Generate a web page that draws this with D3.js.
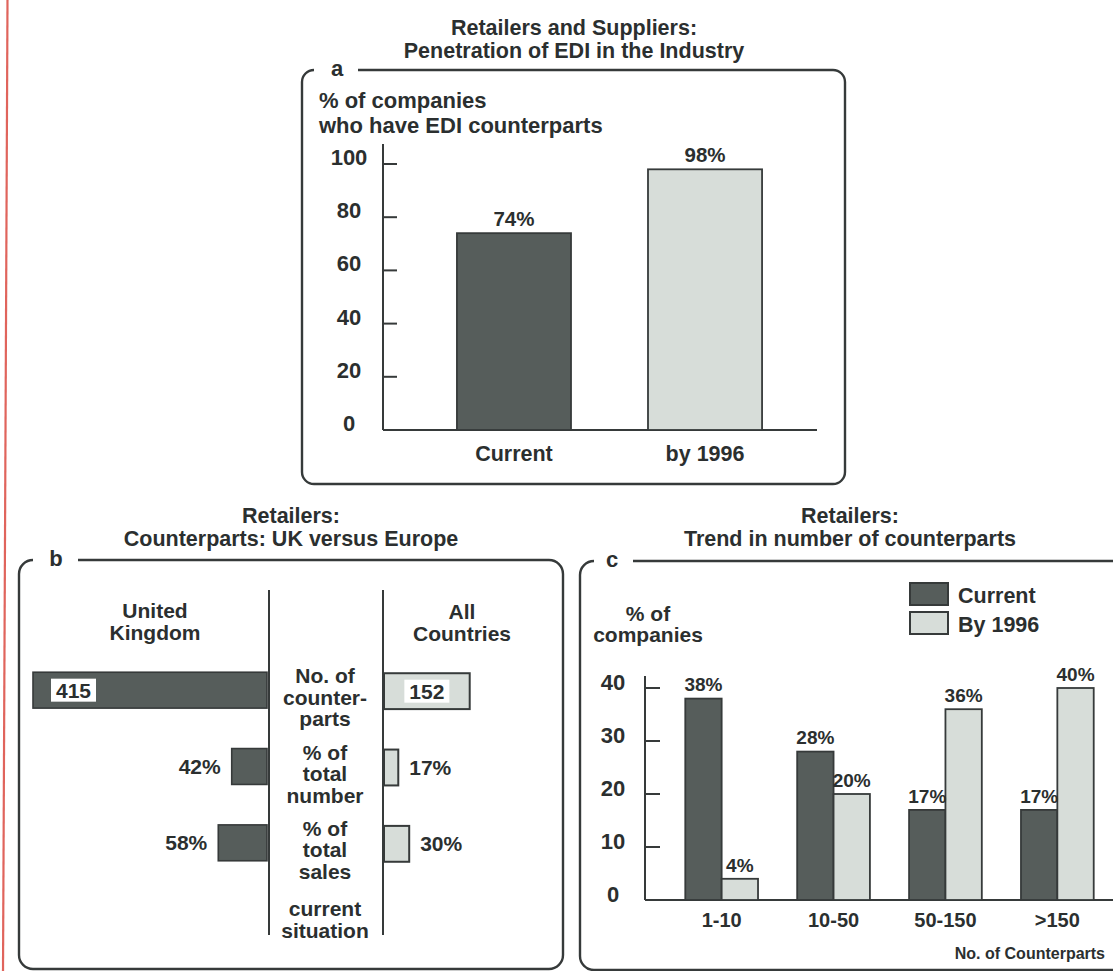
<!DOCTYPE html>
<html>
<head>
<meta charset="utf-8">
<script src="https://cdn.jsdelivr.net/npm/d3@7"></script>
<style>
  html, body { margin: 0; padding: 0; background: #ffffff; }
  svg text { font-family: "Liberation Sans", Arial, Helvetica, sans-serif; font-weight: bold; fill: #2b2f2f; }
</style>
</head>
<body>
<svg id="chart" width="1113" height="971"></svg>
<script>
// ---- Panel a: penetration of EDI ----
const aCategories = ["Current", "by 1996"];
const aValues = [74, 98];
const aTicks = [0, 20, 40, 60, 80, 100];

// ---- Panel b: UK versus all countries ----
const bRowNames = ["No. of counterparts", "% of total number", "% of total sales"];
const bRowLines = [["No. of", "counter-", "parts"], ["% of", "total", "number"], ["% of", "total", "sales"]];
const bRowUnits = ["count", "pct", "pct"];
const bUK = [415, 42, 58];
const bAll = [152, 17, 30];

// ---- Panel c: trend in number of counterparts ----
const cCategories = ["1-10", "10-50", "50-150", ">150"];
const cSeries = ["Current", "By 1996"];
const cCurrent = [38, 28, 17, 17];
const cBy1996 = [4, 20, 36, 40];
const cTicks = [0, 10, 20, 30, 40];

const LINE = "#363a3a";
const DARK = "#565d5b";
const LIGHT = "#d7ddd9";

const svg = d3.select("#chart");

// text helper: y is the vertical centre of the capitals
function label(g, x, y, text, anchor, size) {
  return g.append("text")
    .attr("x", x).attr("y", y)
    .attr("dy", "0.36em")
    .attr("text-anchor", anchor || "middle")
    .style("font-size", (size || 21) + "px")
    .text(text);
}

// rounded frame whose top edge is interrupted by a panel letter
function frame(x0, y0, x1, y1, r, gapFrom, gapTo, letter, letterX) {
  const p = d3.path();
  p.moveTo(gapTo, y0);
  p.lineTo(x1 - r, y0);
  p.arcTo(x1, y0, x1, y0 + r, r);
  p.lineTo(x1, y1 - r);
  p.arcTo(x1, y1, x1 - r, y1, r);
  p.lineTo(x0 + r, y1);
  p.arcTo(x0, y1, x0, y1 - r, r);
  p.lineTo(x0, y0 + r);
  p.arcTo(x0, y0, gapFrom, y0, r);
  svg.append("path").attr("d", p.toString())
    .attr("fill", "none").attr("stroke", LINE).attr("stroke-width", 2.4);
  label(svg, letterX, y0 - 2, letter, "middle", 22);
}

// red margin rule at the left edge
svg.append("line").attr("x1", 7.5).attr("y1", 0).attr("x2", 3).attr("y2", 971)
  .attr("stroke", "#e0645c").attr("stroke-width", 2.2);

// ================= Panel a =================
{
  const g = svg.append("g");
  label(g, 574, 27, "Retailers and Suppliers:", "middle", 21.5);
  label(g, 574, 50, "Penetration of EDI in the Industry", "middle", 21.5);
  frame(302, 70, 845, 484, 12, 314, 358, "a", 337);

  label(g, 319, 100, "% of companies", "start", 22);
  label(g, 319, 125, "who have EDI counterparts", "start", 22);

  const y = d3.scaleLinear().domain([0, 100]).range([430, 164]);
  const x = d3.scaleBand().domain(aCategories).range([383, 836])
    .paddingInner(0.403).paddingOuter(0.387);

  const axisX = 383;
  // vertical axis with short ticks pointing right
  g.append("line").attr("x1", axisX).attr("x2", axisX)
    .attr("y1", y(100) - 20).attr("y2", y(0))
    .attr("stroke", LINE).attr("stroke-width", 2);
  g.selectAll(".tk").data(aTicks.filter(d => d > 0)).join("line")
    .attr("x1", axisX).attr("x2", axisX + 14)
    .attr("y1", d => y(d)).attr("y2", d => y(d))
    .attr("stroke", LINE).attr("stroke-width", 2);
  g.selectAll(".tl").data(aTicks).join("text")
    .attr("x", 349).attr("y", d => y(d) - 7).attr("dy", "0.36em")
    .attr("text-anchor", "middle").style("font-size", "22px")
    .text(d => d);
  // baseline
  g.append("line").attr("x1", axisX).attr("x2", 817)
    .attr("y1", y(0)).attr("y2", y(0))
    .attr("stroke", LINE).attr("stroke-width", 2);

  g.selectAll(".bar").data(aValues).join("rect")
    .attr("x", (d, i) => x(aCategories[i]))
    .attr("width", x.bandwidth())
    .attr("y", d => y(d))
    .attr("height", d => y(0) - y(d))
    .attr("fill", (d, i) => i === 0 ? DARK : LIGHT)
    .attr("stroke", LINE).attr("stroke-width", 1.8);
  g.selectAll(".val").data(aValues).join("text")
    .attr("x", (d, i) => x(aCategories[i]) + x.bandwidth() / 2)
    .attr("y", d => y(d) - 15).attr("dy", "0.36em")
    .attr("text-anchor", "middle").style("font-size", "20.5px")
    .text(d => d + "%");
  g.selectAll(".cat").data(aCategories).join("text")
    .attr("x", d => x(d) + x.bandwidth() / 2)
    .attr("y", 453).attr("dy", "0.36em")
    .attr("text-anchor", "middle").style("font-size", "21.5px")
    .text(d => d);
}

// ================= Panel b =================
{
  const g = svg.append("g");
  label(g, 291, 515, "Retailers:", "middle", 21.5);
  label(g, 291, 538, "Counterparts: UK versus Europe", "middle", 21.5);
  frame(19, 560, 563, 969, 14, 33, 78, "b", 56);

  const leftRule = 269, rightRule = 383;
  [leftRule, rightRule].forEach(xr => {
    g.append("line").attr("x1", xr).attr("x2", xr).attr("y1", 590).attr("y2", 935)
      .attr("stroke", LINE).attr("stroke-width", 2);
  });

  label(g, 155, 610, "United");
  label(g, 155, 632, "Kingdom");
  label(g, 462, 611, "All");
  label(g, 462, 633, "Countries");

  const row = d3.scaleBand().domain(bRowNames).range([652, 881]).paddingInner(0.53).paddingOuter(0.265);
  const lenCount = d3.scaleLinear().domain([0, 415]).range([0, 234]);
  const lenPct = d3.scaleLinear().domain([0, 100]).range([0, 84]);
  const len = (v, i) => bRowUnits[i] === "count" ? lenCount(v) : lenPct(v);
  const bh = row.bandwidth();

  // United Kingdom bars grow leftwards from the divider
  g.selectAll(".uk").data(bUK).join("rect")
    .attr("x", (d, i) => leftRule - 2 - len(d, i))
    .attr("width", (d, i) => len(d, i))
    .attr("y", (d, i) => row(bRowNames[i]))
    .attr("height", bh)
    .attr("fill", DARK).attr("stroke", LINE).attr("stroke-width", 1.6);
  // All countries bars grow rightwards
  g.selectAll(".all").data(bAll).join("rect")
    .attr("x", rightRule + 1)
    .attr("width", (d, i) => len(d, i))
    .attr("y", (d, i) => row(bRowNames[i]) + 1)
    .attr("height", bh)
    .attr("fill", LIGHT).attr("stroke", LINE).attr("stroke-width", 2);

  bUK.forEach((v, i) => {
    const cy = row(bRowNames[i]) + bh / 2;
    if (bRowUnits[i] === "count") {
      const bx = leftRule - 2 - len(v, i) + 18;
      g.append("rect").attr("x", bx).attr("y", cy - 11.5).attr("width", 45).attr("height", 23).attr("fill", "#ffffff");
      label(g, bx + 22.5, cy, String(v), "middle", 21);
    } else {
      label(g, leftRule - 2 - len(v, i) - 11, cy, v + "%", "end", 21);
    }
  });
  bAll.forEach((v, i) => {
    const cy = row(bRowNames[i]) + bh / 2 + 1;
    if (bRowUnits[i] === "count") {
      const cx = rightRule + 1 + len(v, i) / 2;
      g.append("rect").attr("x", cx - 22.5).attr("y", cy - 11.5).attr("width", 45).attr("height", 23).attr("fill", "#ffffff");
      label(g, cx, cy, String(v), "middle", 21);
    } else {
      label(g, rightRule + 1 + len(v, i) + 11, cy, v + "%", "start", 21);
    }
  });

  // row captions between the dividers
  bRowLines.forEach((lines, i) => {
    const mid = row(bRowNames[i]) + bh / 2 + 7;
    lines.forEach((t, k) => label(g, 325, mid + (k - 1) * 21.5, t, "middle", 21));
  });
  label(g, 325, 908, "current");
  label(g, 325, 930, "situation");
}

// ================= Panel c =================
{
  const g = svg.append("g");
  label(g, 850, 515, "Retailers:", "middle", 21.5);
  label(g, 850, 538, "Trend in number of counterparts", "middle", 21.5);
  frame(580, 561, 1135, 970, 14, 594, 633, "c", 612);

  label(g, 648, 613, "% of");
  label(g, 648, 634, "companies");

  // legend
  const colour = d3.scaleOrdinal().domain(cSeries).range([DARK, LIGHT]);
  cSeries.forEach((s, k) => {
    const ly = 594 + k * 29;
    g.append("rect").attr("x", 910).attr("y", ly - 11).attr("width", 38).attr("height", 22)
      .attr("fill", colour(s)).attr("stroke", LINE).attr("stroke-width", 2);
    label(g, 958, ly + 1, s, "start", 21.5);
  });

  const y = d3.scaleLinear().domain([0, 40]).range([900, 688]);
  const x0 = d3.scaleBand().domain(cCategories).range([645, 1134]).paddingInner(0.35).paddingOuter(0.36);
  const x1 = d3.scaleBand().domain(cSeries).range([0, x0.bandwidth()]);
  const axisX = 645;

  g.append("line").attr("x1", axisX).attr("x2", axisX).attr("y1", y(40) - 12).attr("y2", y(0))
    .attr("stroke", LINE).attr("stroke-width", 2);
  g.selectAll(".tk").data(cTicks.filter(d => d > 0)).join("line")
    .attr("x1", axisX).attr("x2", axisX + 15)
    .attr("y1", d => y(d)).attr("y2", d => y(d))
    .attr("stroke", LINE).attr("stroke-width", 2);
  g.selectAll(".tl").data(cTicks).join("text")
    .attr("x", 613).attr("y", d => y(d) - 6).attr("dy", "0.36em")
    .attr("text-anchor", "middle").style("font-size", "22px")
    .text(d => d);
  g.append("line").attr("x1", axisX).attr("x2", 1113).attr("y1", y(0)).attr("y2", y(0))
    .attr("stroke", LINE).attr("stroke-width", 2);

  const rows = cCategories.flatMap((c, i) => [
    { cat: c, s: cSeries[0], v: cCurrent[i] },
    { cat: c, s: cSeries[1], v: cBy1996[i] }
  ]);
  g.selectAll(".bar").data(rows).join("rect")
    .attr("x", d => x0(d.cat) + x1(d.s))
    .attr("width", x1.bandwidth())
    .attr("y", d => y(d.v))
    .attr("height", d => y(0) - y(d.v))
    .attr("fill", d => colour(d.s))
    .attr("stroke", LINE).attr("stroke-width", 1.8);
  g.selectAll(".val").data(rows).join("text")
    .attr("x", d => x0(d.cat) + x1(d.s) + x1.bandwidth() / 2)
    .attr("y", d => y(d.v) - 14).attr("dy", "0.36em")
    .attr("text-anchor", "middle").style("font-size", "19px")
    .text(d => d.v + "%");
  g.selectAll(".cat").data(cCategories).join("text")
    .attr("x", d => x0(d) + x0.bandwidth() / 2)
    .attr("y", 920).attr("dy", "0.36em")
    .attr("text-anchor", "middle").style("font-size", "20px")
    .text(d => d);
  label(g, 1105, 953, "No. of Counterparts", "end", 16);
}
</script>
</body>
</html>
